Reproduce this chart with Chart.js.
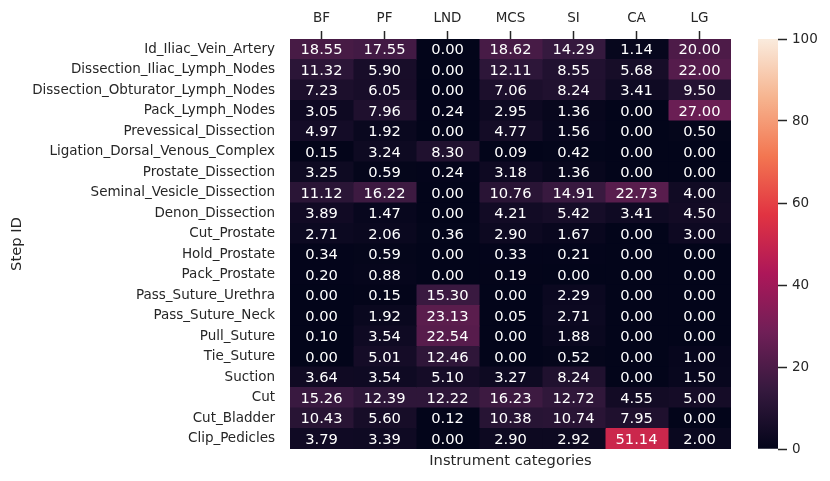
<!DOCTYPE html>
<html>
<head>
<meta charset="utf-8">
<script src="https://cdn.jsdelivr.net/npm/chart.js@4.4.1/dist/chart.umd.min.js"></script>
<style>
  html, body { margin: 0; padding: 0; background: #fff; }
  #wrap { position: relative; width: 830px; height: 481px; }
  #heat { position: absolute; left: 0; top: 0; }
  #cbar { position: absolute; left: 740px; top: 0; }
</style>
</head>
<body>
<div id="wrap">
  <canvas id="heat" width="830" height="481"></canvas>
  <canvas id="cbar" width="90" height="481"></canvas>
</div>
<script>
const categories = ["BF", "PF", "LND", "MCS", "SI", "CA", "LG"];

const steps = [
    "Id_Iliac_Vein_Artery",
    "Dissection_Iliac_Lymph_Nodes",
    "Dissection_Obturator_Lymph_Nodes",
    "Pack_Lymph_Nodes",
    "Prevessical_Dissection",
    "Ligation_Dorsal_Venous_Complex",
    "Prostate_Dissection",
    "Seminal_Vesicle_Dissection",
    "Denon_Dissection",
    "Cut_Prostate",
    "Hold_Prostate",
    "Pack_Prostate",
    "Pass_Suture_Urethra",
    "Pass_Suture_Neck",
    "Pull_Suture",
    "Tie_Suture",
    "Suction",
    "Cut",
    "Cut_Bladder",
    "Clip_Pedicles",
];

// one array per instrument column, top row first
const bf  = [18.55, 11.32, 7.23, 3.05, 4.97, 0.15, 3.25, 11.12, 3.89, 2.71, 0.34, 0.20, 0.00, 0.00, 0.10, 0.00, 3.64, 15.26, 10.43, 3.79];
const pf  = [17.55, 5.90, 6.05, 7.96, 1.92, 3.24, 0.59, 16.22, 1.47, 2.06, 0.59, 0.88, 0.15, 1.92, 3.54, 5.01, 3.54, 12.39, 5.60, 3.39];
const lnd = [0.00, 0.00, 0.00, 0.24, 0.00, 8.30, 0.24, 0.00, 0.00, 0.36, 0.00, 0.00, 15.30, 23.13, 22.54, 12.46, 5.10, 12.22, 0.12, 0.00];
const mcs = [18.62, 12.11, 7.06, 2.95, 4.77, 0.09, 3.18, 10.76, 4.21, 2.90, 0.33, 0.19, 0.00, 0.05, 0.00, 0.00, 3.27, 16.23, 10.38, 2.90];
const si  = [14.29, 8.55, 8.24, 1.36, 1.56, 0.42, 1.36, 14.91, 5.42, 1.67, 0.21, 0.00, 2.29, 2.71, 1.88, 0.52, 8.24, 12.72, 10.74, 2.92];
const ca  = [1.14, 5.68, 3.41, 0.00, 0.00, 0.00, 0.00, 22.73, 3.41, 0.00, 0.00, 0.00, 0.00, 0.00, 0.00, 0.00, 0.00, 4.55, 7.95, 51.14];
const lg  = [20.00, 22.00, 9.50, 27.00, 0.50, 0.00, 0.00, 4.00, 4.50, 3.00, 0.00, 0.00, 0.00, 0.00, 0.00, 1.00, 1.50, 5.00, 0.00, 2.00];

const columns = [bf, pf, lnd, mcs, si, ca, lg];

const colorTicks = [0, 20, 40, 60, 80, 100];
const vmin = 0;
const vmax = 100;

// seaborn "rocket" colormap, sampled
const rocket = [
    [0, [3, 5, 26]],
    [1 / 7, [53, 25, 62]],
    [2 / 7, [112, 31, 87]],
    [3 / 7, [173, 23, 89]],
    [4 / 7, [225, 51, 66]],
    [5 / 7, [243, 118, 81]],
    [6 / 7, [246, 180, 143]],
    [1, [250, 235, 221]],
];

const rocketColor = (v) => {
    const t = Math.min(1, Math.max(0, (v - vmin) / (vmax - vmin)));
    for (let i = 1; i < rocket.length; i++) {
        const [t1, c1] = rocket[i];
        const [t0, c0] = rocket[i - 1];
        if (t <= t1) {
            const f = (t - t0) / (t1 - t0);
            const [r, g, b] = c0.map((c, k) => Math.round(c + (c1[k] - c) * f));
            return `rgb(${r},${g},${b})`;
        }
    }
    return "rgb(250,235,221)";
};

const FONT = "'DejaVu Sans', sans-serif";
const INK = "#262626";
const TICK_SIZE = 13.5;
const LABEL_SIZE = 14.7;

const cellLabels = {
    id: "cellLabels",
    afterDatasetsDraw(chart) {
        const { ctx } = chart;
        ctx.save();
        ctx.font = `${LABEL_SIZE}px ${FONT}`;
        ctx.fillStyle = "#ffffff";
        ctx.textAlign = "center";
        ctx.textBaseline = "middle";
        chart.data.datasets.forEach((dataset, di) => {
            const meta = chart.getDatasetMeta(di);
            meta.data.forEach((bar, i) => {
                const { x, base, y } = bar.getProps(["x", "base", "y"], true);
                ctx.fillText(dataset.values[i].toFixed(2), (x + base) / 2, y + 1);
            });
        });
        ctx.restore();
    },
};

new Chart(document.getElementById("heat"), {
    type: "bar",
    data: {
        labels: steps,
        datasets: columns.map((vals, c) => ({
            label: categories[c],
            values: vals,
            data: vals.map(() => [c - 0.5, c + 0.5]),
            backgroundColor: vals.map(rocketColor),
            borderWidth: 0,
            inflateAmount: 0.5,
            barPercentage: 1,
            categoryPercentage: 1,
            grouped: false,
        })),
    },
    options: {
        indexAxis: "y",
        responsive: false,
        animation: false,
        layout: { padding: { left: 0, right: 99, top: 0, bottom: 0 } },
        plugins: {
            legend: { display: false },
            tooltip: { enabled: false },
        },
        scales: {
            x: {
                type: "linear",
                min: -0.5,
                max: 6.5,
                display: false,
            },
            xTop: {
                type: "category",
                labels: categories,
                position: "top",
                offset: true,
                border: { display: false },
                grid: {
                    offset: false,
                    drawOnChartArea: false,
                    drawTicks: true,
                    tickLength: 8,
                    tickWidth: 1.5,
                    tickColor: INK,
                },
                ticks: {
                    color: INK,
                    font: { family: FONT, size: TICK_SIZE },
                    padding: 4,
                    maxRotation: 0,
                    autoSkip: false,
                },
                afterFit: (scale) => {
                    scale.height = 39;
                },
            },
            xBottom: {
                type: "category",
                labels: categories,
                position: "bottom",
                offset: true,
                border: { display: false },
                grid: { display: false, drawTicks: false },
                ticks: { display: false },
                title: {
                    display: true,
                    text: "Instrument categories",
                    color: INK,
                    font: { family: FONT, size: LABEL_SIZE },
                    padding: { top: 0, bottom: 11 },
                },
                afterFit: (scale) => {
                    scale.height = 32;
                },
            },
            y: {
                type: "category",
                offset: true,
                border: { display: false },
                grid: { display: false, drawTicks: false },
                ticks: {
                    color: INK,
                    font: { family: FONT, size: TICK_SIZE },
                    padding: 15,
                    autoSkip: false,
                },
                title: {
                    display: true,
                    text: "Step ID",
                    color: INK,
                    font: { family: FONT, size: LABEL_SIZE },
                    padding: { top: 8.5, bottom: 0 },
                },
                afterFit: (scale) => {
                    scale.width = 290;
                },
            },
        },
    },
    plugins: [cellLabels],
});

// colour bar
new Chart(document.getElementById("cbar"), {
    type: "bar",
    data: {
        labels: [""],
        datasets: [
            {
                data: [[vmin, vmax]],
                backgroundColor: (context) => {
                    const { chart } = context;
                    const area = chart.chartArea;
                    if (!area) return null;
                    const grad = chart.ctx.createLinearGradient(0, area.bottom, 0, area.top);
                    rocket.forEach(([t, [r, g, b]]) => grad.addColorStop(t, `rgb(${r},${g},${b})`));
                    return grad;
                },
                borderWidth: 0,
                barPercentage: 1,
                categoryPercentage: 1,
            },
        ],
    },
    options: {
        responsive: false,
        animation: false,
        layout: { padding: { left: 18, right: 0, top: 39, bottom: 32 } },
        plugins: {
            legend: { display: false },
            tooltip: { enabled: false },
        },
        scales: {
            x: { display: false },
            y: {
                position: "right",
                min: vmin,
                max: vmax,
                afterBuildTicks: (scale) => {
                    scale.ticks = colorTicks.map((v) => ({ value: v }));
                },
                border: { display: false },
                grid: {
                    drawOnChartArea: false,
                    drawTicks: true,
                    tickLength: 9,
                    tickWidth: 1.5,
                    tickColor: INK,
                },
                ticks: {
                    color: INK,
                    font: { family: FONT, size: TICK_SIZE },
                    padding: 5,
                },
                afterFit: (scale) => {
                    scale.width = 52;
                },
            },
        },
    },
});
</script>
</body>
</html>
